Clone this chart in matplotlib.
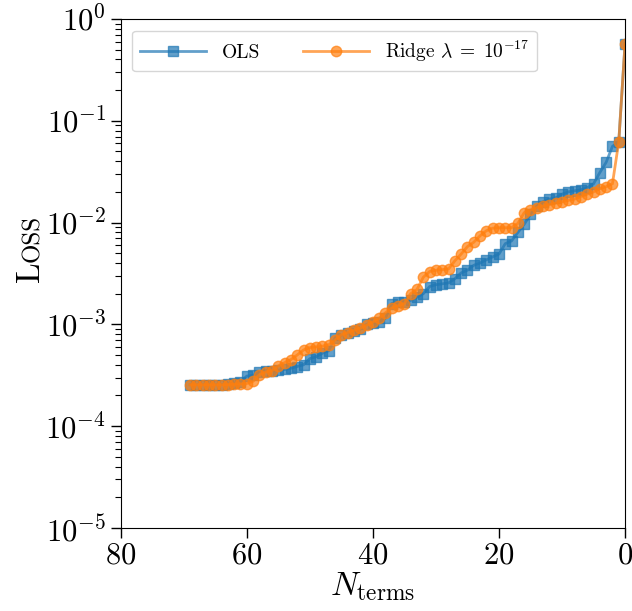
import numpy as np
import matplotlib
matplotlib.use("Agg")
import matplotlib.pyplot as plt
import matplotlib.transforms as mtransforms

plt.rcParams["font.family"] = "cmr10"
plt.rcParams["mathtext.fontset"] = "cm"
plt.rcParams["axes.formatter.use_mathtext"] = True
plt.rcParams["axes.unicode_minus"] = False

# number of retained terms, from 69 down to 0
n_terms = np.arange(69, -1, -1)

loss_ols = [
    2.55e-4, 2.55e-4, 2.55e-4, 2.55e-4, 2.55e-4, 2.56e-4, 2.6e-4, 2.65e-4, 2.7e-4,   # 69-61
    3.1e-4, 3.15e-4, 3.4e-4, 3.5e-4, 3.5e-4, 3.55e-4, 3.6e-4, 3.7e-4, 3.85e-4,      # 60-52
    4.0e-4, 4.6e-4, 4.8e-4, 5.2e-4, 5.5e-4, 7.4e-4, 7.8e-4, 8.2e-4, 8.6e-4,         # 51-43
    8.9e-4, 1.0e-3, 1.03e-3, 1.05e-3, 1.15e-3, 1.6e-3, 1.65e-3, 1.67e-3, 1.72e-3,   # 42-34
    1.85e-3, 2.0e-3, 2.35e-3, 2.45e-3, 2.5e-3, 2.55e-3, 2.8e-3, 3.2e-3, 3.4e-3,     # 33-25
    3.8e-3, 4.0e-3, 4.3e-3, 4.6e-3, 4.9e-3, 6.2e-3, 6.6e-3, 8.0e-3, 9.6e-3,         # 24-16
    1.2e-2, 1.45e-2, 1.6e-2, 1.7e-2, 1.75e-2, 1.9e-2, 2.0e-2, 2.05e-2, 2.1e-2,      # 15-7
    2.2e-2, 2.4e-2, 3.1e-2, 3.9e-2, 5.6e-2, 6.2e-2, 0.57,                           # 6-0
]

loss_ridge = [
    2.55e-4, 2.55e-4, 2.55e-4, 2.55e-4, 2.55e-4, 2.55e-4, 2.56e-4, 2.58e-4, 2.6e-4,  # 69-61
    2.62e-4, 2.75e-4, 3.2e-4, 3.4e-4, 3.5e-4, 3.9e-4, 4.2e-4, 4.5e-4, 5.0e-4,       # 60-52
    5.6e-4, 5.9e-4, 6.0e-4, 6.1e-4, 6.3e-4, 7.0e-4, 7.9e-4, 8.3e-4, 8.7e-4,         # 51-43
    9.2e-4, 9.8e-4, 1.05e-3, 1.15e-3, 1.3e-3, 1.45e-3, 1.52e-3, 1.6e-3, 2.0e-3,     # 42-34
    2.2e-3, 2.9e-3, 3.3e-3, 3.4e-3, 3.45e-3, 3.5e-3, 4.2e-3, 4.9e-3, 5.8e-3,        # 33-25
    6.4e-3, 7.4e-3, 8.3e-3, 8.8e-3, 8.9e-3, 8.9e-3, 8.9e-3, 9.8e-3, 1.25e-2,        # 24-16
    1.33e-2, 1.4e-2, 1.45e-2, 1.5e-2, 1.55e-2, 1.6e-2, 1.65e-2, 1.7e-2, 1.8e-2,     # 15-7
    1.9e-2, 2.0e-2, 2.15e-2, 2.25e-2, 2.4e-2, 6.2e-2, 0.57,                         # 6-0
]

fig = plt.figure(figsize=(6.32, 6.11), dpi=100)
ax = fig.add_axes([0.191, 0.136, 0.798, 0.833])

ax.plot(n_terms, loss_ols, marker="s", ms=7.5, lw=2, color="tab:blue",
        alpha=0.7, label="OLS")
ax.plot(n_terms, loss_ridge, marker="o", ms=7.5, lw=2, color="tab:orange",
        alpha=0.7, label=r"Ridge $\lambda\;=\;10^{-17}$")

ax.set_yscale("log")
ax.set_ylim(1e-5, 1e0)
ax.set_xlim(80, 0)
ax.set_xticks([80, 60, 40, 20, 0])
ax.tick_params(axis="both", which="major", labelsize=22, length=7, width=1)
ax.tick_params(axis="y", which="minor", length=4, width=0.8)

ax.set_xlabel(r"$N_{\mathrm{terms}}$", fontsize=24, labelpad=0)

# small-caps style label: big L followed by smaller OSS
t1 = fig.text(0.062, 0.538, "L", fontsize=24, rotation=90,
              rotation_mode="anchor", ha="left", va="baseline")
fig.canvas.draw()
w = t1.get_window_extent(fig.canvas.get_renderer()).height
tr = mtransforms.offset_copy(fig.transFigure, fig=fig, x=0, y=w * 72 / fig.dpi,
                             units="points")
fig.text(0.062, 0.538, "OSS", fontsize=18, rotation=90, rotation_mode="anchor",
         ha="left", va="baseline", transform=tr)

ax.legend(loc="upper left", ncol=2, fontsize=14, handlelength=3.4,
          columnspacing=2.2, borderaxespad=0.6)

fig.savefig("out.png", dpi=100)
